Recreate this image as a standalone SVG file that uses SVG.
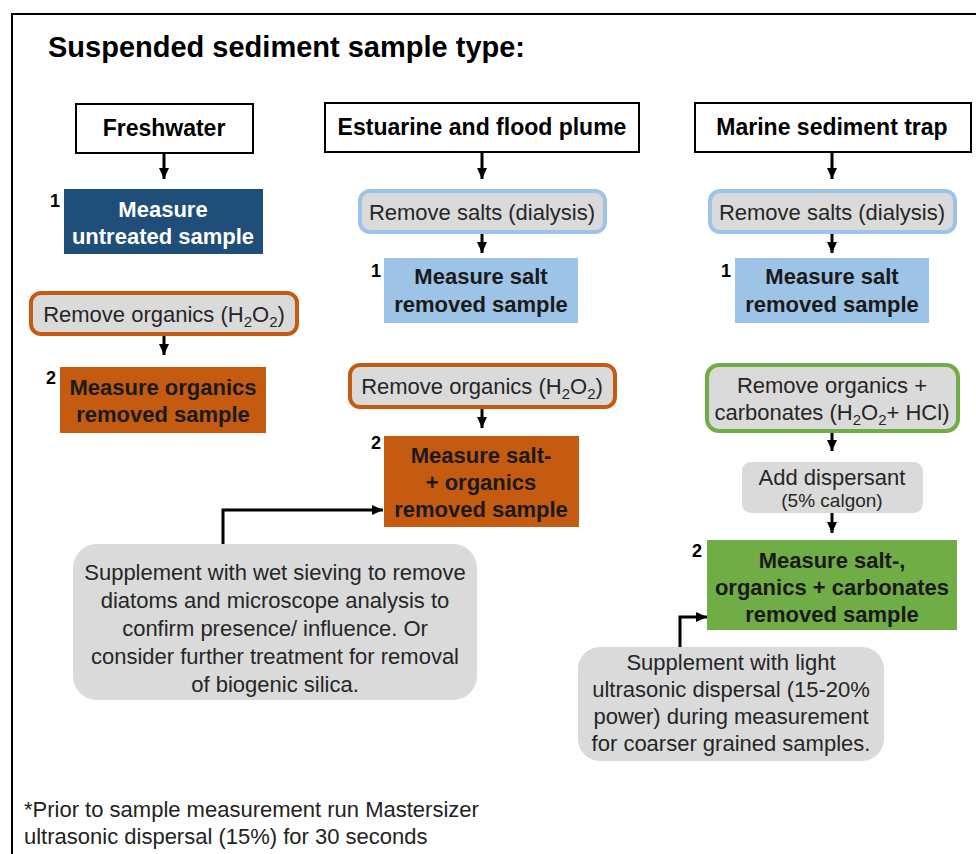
<svg xmlns="http://www.w3.org/2000/svg" width="976" height="854" viewBox="0 0 976 854">
<defs>
<marker id="ah" markerUnits="userSpaceOnUse" markerWidth="12" markerHeight="12" viewBox="0 0 12 12" refX="11" refY="6" orient="auto">
<path d="M0,1 L11,6 L0,11 Z" fill="#000"/>
</marker>
<style>
text{font-family:"Liberation Sans",Arial,sans-serif;fill:#222;}
.hdr{font-size:23px;font-weight:bold;fill:#000;text-anchor:middle;}
.b{font-size:22px;font-weight:bold;text-anchor:middle;fill:#1a1a1a;}
.w{fill:#fff;}
.r{font-size:22px;text-anchor:middle;fill:#262626;}
.num{font-size:18px;font-weight:bold;fill:#000;}
.hbox{fill:#fff;stroke:#000;stroke-width:2;}
.step{fill:#DADADA;stroke-width:4;}
.blue{stroke:#9DC3E6;}
.org{stroke:#C55A11;}
.grn{stroke:#70AD47;}
.con{fill:none;stroke:#000;stroke-width:3;}
.sub{font-size:15px;}
</style>
</defs>
<rect x="0" y="0" width="976" height="854" fill="#fff"/>
<path d="M12,854 V14 H976" fill="none" stroke="#000" stroke-width="2"/>
<text x="48" y="57" style="font-size:29px;font-weight:bold;fill:#000">Suspended sediment sample type:</text>

<g id="connectors">
<path class="con" d="M164,153 V179" marker-end="url(#ah)"/>
<path class="con" d="M164,336 V355" marker-end="url(#ah)"/>
<path class="con" d="M482,152 V179" marker-end="url(#ah)"/>
<path class="con" d="M482,234 V253" marker-end="url(#ah)"/>
<path class="con" d="M482,409 V428" marker-end="url(#ah)"/>
<path class="con" d="M832,152 V179" marker-end="url(#ah)"/>
<path class="con" d="M832,234 V253" marker-end="url(#ah)"/>
<path class="con" d="M832,433 V451" marker-end="url(#ah)"/>
<path class="con" d="M832,513 V533" marker-end="url(#ah)"/>
<path class="con" d="M223,544 V510 H383" marker-end="url(#ah)"/>
<path class="con" d="M680,647 V617 H707" marker-end="url(#ah)"/>
</g>

<g id="freshwater">
<rect class="hbox" x="76" y="104" width="177" height="49"/>
<text class="hdr" x="164" y="136">Freshwater</text>
</g>
<g id="measure-untreated">
<rect x="64" y="189" width="199" height="65" fill="#1F4E79"/>
<text class="b w" x="163" y="217">Measure</text>
<text class="b w" x="163" y="244">untreated sample</text>
<text class="num" x="50" y="207">1</text>
</g>
<g id="remove-organics-fw">
<rect class="step org" x="31" y="293" width="266" height="41" rx="10"/>
<text class="r" x="164" y="322">Remove organics (H<tspan class="sub" dy="5">2</tspan><tspan dy="-5">O</tspan><tspan class="sub" dy="5">2</tspan><tspan dy="-5">)</tspan></text>
</g>
<g id="measure-organics-fw">
<rect x="60" y="367" width="206" height="66" fill="#C55A11"/>
<text class="b" x="163" y="395">Measure organics</text>
<text class="b" x="163" y="422">removed sample</text>
<text class="num" x="46" y="384">2</text>
</g>

<g id="estuarine">
<rect class="hbox" x="325" y="103" width="314" height="49"/>
<text class="hdr" x="482" y="135">Estuarine and flood plume</text>
</g>
<g id="remove-salts-est">
<rect class="step blue" x="360" y="191" width="245" height="41" rx="10"/>
<text class="r" x="482" y="220">Remove salts (dialysis)</text>
</g>
<g id="measure-salt-est">
<rect x="384" y="258" width="194" height="65" fill="#9DC3E6"/>
<text class="b" x="481" y="284">Measure salt</text>
<text class="b" x="481" y="312">removed sample</text>
<text class="num" x="371" y="277">1</text>
</g>
<g id="remove-organics-est">
<rect class="step org" x="350" y="365" width="265" height="42" rx="10"/>
<text class="r" x="482" y="394">Remove organics (H<tspan class="sub" dy="5">2</tspan><tspan dy="-5">O</tspan><tspan class="sub" dy="5">2</tspan><tspan dy="-5">)</tspan></text>
</g>
<g id="measure-salt-organics-est">
<rect x="384" y="436" width="195" height="91" fill="#C55A11"/>
<text class="b" x="481" y="463">Measure salt-</text>
<text class="b" x="481" y="490">+ organics</text>
<text class="b" x="481" y="517">removed sample</text>
<text class="num" x="371" y="449">2</text>
</g>
<g id="supplement-est">
<rect x="73" y="544" width="404" height="156" rx="24" fill="#DADADA"/>
<text class="r" x="275" y="580">Supplement with wet sieving to remove</text>
<text class="r" x="275" y="608">diatoms and microscope analysis to</text>
<text class="r" x="275" y="636">confirm presence/ influence. Or</text>
<text class="r" x="275" y="664">consider further treatment for removal</text>
<text class="r" x="275" y="692">of biogenic silica.</text>
</g>

<g id="marine">
<rect class="hbox" x="695" y="103" width="276" height="49"/>
<text class="hdr" x="832" y="135">Marine sediment trap</text>
</g>
<g id="remove-salts-mar">
<rect class="step blue" x="710" y="191" width="245" height="41" rx="10"/>
<text class="r" x="832" y="220">Remove salts (dialysis)</text>
</g>
<g id="measure-salt-mar">
<rect x="735" y="258" width="194" height="65" fill="#9DC3E6"/>
<text class="b" x="832" y="284">Measure salt</text>
<text class="b" x="832" y="312">removed sample</text>
<text class="num" x="721" y="277">1</text>
</g>
<g id="remove-organics-carb-mar">
<rect class="step grn" x="707" y="365" width="251" height="66" rx="12"/>
<text class="r" x="832" y="393">Remove organics +</text>
<text class="r" x="832" y="420">carbonates (H<tspan class="sub" dy="5">2</tspan><tspan dy="-5">O</tspan><tspan class="sub" dy="5">2</tspan><tspan dy="-5">+ HCl)</tspan></text>
</g>
<g id="add-dispersant">
<rect x="742" y="462" width="181" height="51" rx="9" fill="#DADADA"/>
<text class="r" x="832" y="485">Add dispersant</text>
<text class="r" x="832" y="507" style="font-size:19px">(5% calgon)</text>
</g>
<g id="measure-salt-org-carb-mar">
<rect x="707" y="540" width="250" height="90" fill="#70AD47"/>
<text class="b" x="832" y="568">Measure salt-,</text>
<text class="b" x="832" y="595">organics + carbonates</text>
<text class="b" x="832" y="622">removed sample</text>
<text class="num" x="692" y="557">2</text>
</g>
<g id="supplement-mar">
<rect x="578" y="647" width="306" height="114" rx="22" fill="#DADADA"/>
<text class="r" x="731" y="670">Supplement with light</text>
<text class="r" x="731" y="697">ultrasonic dispersal (15-20%</text>
<text class="r" x="731" y="724">power) during measurement</text>
<text class="r" x="731" y="751">for coarser grained samples.</text>
</g>

<g id="footnote">
<text x="24" y="817" style="font-size:22px;fill:#222">*Prior to sample measurement run Mastersizer</text>
<text x="24" y="844" style="font-size:22px;fill:#222">ultrasonic dispersal (15%) for 30 seconds</text>
</g>
</svg>
